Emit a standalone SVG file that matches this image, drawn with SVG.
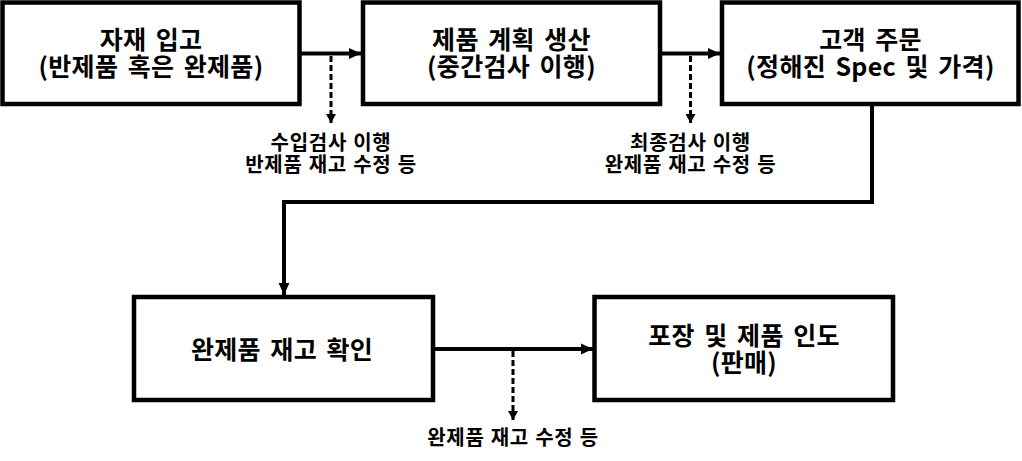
<svg xmlns="http://www.w3.org/2000/svg" width="1022" height="461" viewBox="0 0 1022 461">
<style>
.box{fill:#fff;stroke:#000;stroke-width:4.5}
.t{font-family:"Malgun Gothic","Noto Sans CJK KR",sans-serif;font-weight:bold;fill:#000;text-anchor:middle}
.big{font-size:25px;letter-spacing:0.3px;word-spacing:3.5px}
.small{font-size:20px;letter-spacing:0.7px;word-spacing:1px}
.solid{fill:none;stroke:#000;stroke-width:4}
.dash{fill:none;stroke:#000;stroke-width:3;stroke-dasharray:6 3}
</style>
<defs>
<marker id="ah" markerUnits="userSpaceOnUse" markerWidth="12" markerHeight="12" refX="11" refY="5" orient="auto" viewBox="0 0 11 10"><path d="M0,0 L11,5 L0,10 z" fill="#000"/></marker>
<marker id="ahs" markerUnits="userSpaceOnUse" markerWidth="10" markerHeight="10" refX="8" refY="4.5" orient="auto" viewBox="0 0 8 9"><path d="M0,0 L8,4.5 L0,9 z" fill="#000"/></marker>
</defs>
<rect width="1022" height="461" fill="#fff"/>
<g id="connectors">
<path class="solid" d="M301,53.5 H361" marker-end="url(#ah)"/>
<path class="dash" d="M331,56 V123" marker-end="url(#ahs)"/>
<path class="solid" d="M662,53.5 H720" marker-end="url(#ah)"/>
<path class="dash" d="M690.5,56 V123" marker-end="url(#ahs)"/>
<path class="solid" d="M872,106 V202 H284 V295" marker-end="url(#ah)"/>
<path class="solid" d="M435,349 H593" marker-end="url(#ah)"/>
<path class="dash" d="M513,351 V420" marker-end="url(#ahs)"/>
</g>
<g id="n1"><rect class="box" x="2.5" y="2.5" width="297" height="101.5"/>
<text class="t big"><tspan x="151" y="49">자재 입고</tspan><tspan x="151" y="76">(반제품 혹은 완제품)</tspan></text></g>
<g id="n2"><rect class="box" x="363" y="2.5" width="297" height="101.5"/>
<text class="t big"><tspan x="511.5" y="49">제품 계획 생산</tspan><tspan x="511.5" y="76">(중간검사 이행)</tspan></text></g>
<g id="n3"><rect class="box" x="722" y="2.5" width="296.5" height="101.5"/>
<text class="t big"><tspan x="870.5" y="49">고객 주문</tspan><tspan x="870.5" y="76">(정해진 Spec 및 가격)</tspan></text></g>
<g id="n4"><rect class="box" x="134" y="297" width="299" height="103"/>
<text class="t big" x="282" y="359">완제품 재고 확인</text></g>
<g id="n5"><rect class="box" x="594.5" y="297" width="298.5" height="103"/>
<text class="t big"><tspan x="744" y="344.5">포장 및 제품 인도</tspan><tspan x="744" y="371.5">(판매)</tspan></text></g>
<g id="l1"><text class="t small"><tspan x="331" y="149.5">수입검사 이행</tspan><tspan x="331" y="171.5">반제품 재고 수정 등</tspan></text></g>
<g id="l2"><text class="t small"><tspan x="690.5" y="149.5">최종검사 이행</tspan><tspan x="690.5" y="171.5">완제품 재고 수정 등</tspan></text></g>
<g id="l3"><text class="t small" x="513" y="444.5">완제품 재고 수정 등</text></g>
</svg>
